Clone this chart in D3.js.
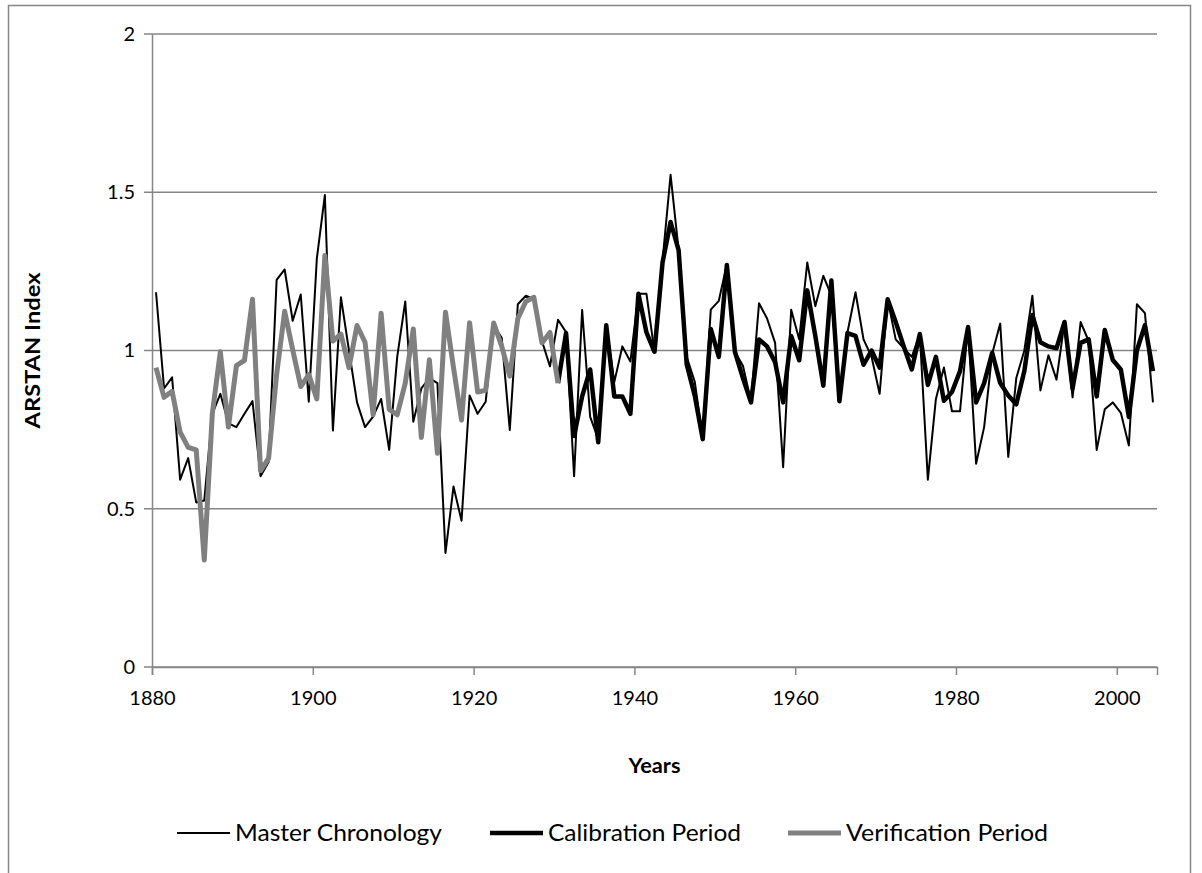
<!DOCTYPE html>
<html>
<head>
<meta charset="utf-8">
<script src="https://cdn.jsdelivr.net/npm/d3@7"></script>
<style>
  body { margin: 0; background: #fff; }
  text { font-family: Lato, "Open Sans", sans-serif; }
</style>
</head>
<body>
<div id="chart"></div>
<script>
// Data
const years = d3.range(1880, 2005);

const master = [
  1.184, 0.880, 0.915, 0.592, 0.660, 0.520, 0.526, 0.800, 0.863, 0.770,
  0.758, 0.800, 0.840, 0.603, 0.648, 1.223, 1.256, 1.094, 1.177, 0.838,
  1.290, 1.491, 0.747, 1.168, 1.000, 0.836, 0.758, 0.791, 0.847, 0.686,
  0.980, 1.155, 0.775, 0.880, 0.913, 0.897, 0.360, 0.570, 0.462, 0.858,
  0.800, 0.838, 1.079, 1.040, 0.749, 1.146, 1.173, 1.162, 1.030, 0.950,
  1.097, 1.058, 0.603, 1.128, 0.790, 0.720, 1.080, 0.900, 1.013, 0.965,
  1.179, 1.179, 0.996, 1.284, 1.555, 1.317, 0.980, 0.902, 0.725, 1.129,
  1.157, 1.273, 0.996, 0.952, 0.840, 1.149, 1.101, 1.024, 0.631, 1.129,
  1.035, 1.278, 1.140, 1.236, 1.173, 0.840, 1.057, 1.184, 1.035, 0.980,
  0.863, 1.162, 1.035, 1.007, 0.980, 1.052, 0.592, 0.847, 0.946, 0.808,
  0.808, 1.074, 0.642, 0.758, 0.990, 1.085, 0.664, 0.913, 1.000, 1.173,
  0.874, 0.985, 0.908, 1.090, 0.852, 1.090, 1.030, 0.686, 0.814, 0.836,
  0.803, 0.700, 1.146, 1.118, 0.836
];

// Verification period 1880-1930
const verificationYears = d3.range(1880, 1931);
const verification = [
  0.946, 0.852, 0.871, 0.742, 0.694, 0.686, 0.338, 0.800, 0.996, 0.758,
  0.952, 0.969, 1.162, 0.620, 0.659, 0.924, 1.124, 1.002, 0.886, 0.924,
  0.847, 1.300, 1.030, 1.052, 0.946, 1.079, 1.026, 0.797, 1.118, 0.814,
  0.797, 0.897, 1.068, 0.725, 0.971, 0.675, 1.121, 0.946, 0.780, 1.088,
  0.869, 0.874, 1.087, 1.013, 0.919, 1.101, 1.155, 1.168, 1.024, 1.057,
  0.897
];

// Calibration period 1930-2004
const calibrationYears = d3.range(1930, 2005);
const calibration = [
  0.897, 1.055, 0.730, 0.855, 0.940, 0.710, 1.080, 0.855, 0.855, 0.800,
  1.179, 1.057, 0.996, 1.278, 1.406, 1.317, 0.957, 0.858, 0.720, 1.068,
  0.980, 1.270, 0.996, 0.913, 0.836, 1.035, 1.013, 0.963, 0.836, 1.046,
  0.969, 1.190, 1.046, 0.889, 1.221, 0.840, 1.055, 1.046, 0.955, 1.000,
  0.946, 1.162, 1.090, 1.013, 0.940, 1.052, 0.891, 0.980, 0.841, 0.869,
  0.935, 1.074, 0.836, 0.897, 0.993, 0.897, 0.858, 0.830, 0.935, 1.112,
  1.026, 1.013, 1.007, 1.090, 0.880, 1.024, 1.035, 0.855, 1.065, 0.970,
  0.940, 0.790, 1.000, 1.080, 0.935
];

const yTicks = [0, 0.5, 1, 1.5, 2];
const xTicks = [1880, 1900, 1920, 1940, 1960, 1980, 2000];

const seriesNames = ["Master Chronology", "Calibration Period", "Verification Period"];

/************************************
 * Layout
 ************************************/
const w = 1202;
const h = 873;
const margin = { left: 152, right: 45, top: 34, bottom: 206 };
const gridColor = "#868686";

const svg = d3.select("#chart")
  .append("svg")
  .attr("width", w)
  .attr("height", h);

// outer chart border (cut off at the bottom)
svg.append("path")
  .attr("d", "M8.5," + h + "V5.5H1190.5V" + h)
  .attr("fill", "none")
  .attr("stroke", gridColor)
  .attr("stroke-width", 1.5);

/************************************
 * Scales
 ************************************/
const xBand = d3.scaleBand()
  .domain(years)
  .range([margin.left, w - margin.right]);

const xScale = d3.scaleLinear()
  .domain([1880, 2005])
  .range([margin.left, w - margin.right]);

const yScale = d3.scaleLinear()
  .domain([0, 2])
  .range([h - margin.bottom, margin.top]);

const xPos = y => xBand(y) + xBand.bandwidth() / 2;

/************************************
 * Grid and axes
 ************************************/
svg.append("g")
  .selectAll("line")
  .data(yTicks)
  .enter()
  .append("line")
  .attr("x1", margin.left - 8)
  .attr("x2", w - margin.right)
  .attr("y1", d => yScale(d))
  .attr("y2", d => yScale(d))
  .attr("stroke", gridColor)
  .attr("stroke-width", 1.5);

const yAxis = d3.axisLeft(yScale)
  .tickValues(yTicks)
  .tickFormat(d => d)
  .tickSize(0)
  .tickPadding(17);

svg.append("g")
  .attr("transform", "translate(" + margin.left + ",0)")
  .call(yAxis)
  .call(g => g.select(".domain").attr("stroke", gridColor).attr("stroke-width", 1.5))
  .selectAll("text")
  .attr("font-size", 20)
  .attr("font-family", "Lato, sans-serif")
  .attr("fill", "#000");

const xAxis = d3.axisBottom(xScale)
  .tickValues(xTicks)
  .tickFormat(d3.format(""))
  .tickSize(8)
  .tickPadding(16);

svg.append("g")
  .attr("transform", "translate(0," + yScale(0) + ")")
  .call(xAxis)
  .call(g => g.select(".domain").attr("stroke", gridColor).attr("stroke-width", 1.5))
  .call(g => g.selectAll(".tick line").attr("stroke", gridColor).attr("stroke-width", 1.5))
  .selectAll("text")
  .attr("font-size", 20)
  .attr("font-family", "Lato, sans-serif")
  .attr("fill", "#000");

// Axis titles
svg.append("text")
  .attr("transform", "translate(40," + (yScale(1)) + ") rotate(-90)")
  .attr("text-anchor", "middle")
  .attr("font-weight", "bold")
  .attr("font-size", 20)
  .attr("textLength", 156)
  .attr("lengthAdjust", "spacingAndGlyphs")
  .text("ARSTAN Index");

svg.append("text")
  .attr("x", (margin.left + w - margin.right) / 2)
  .attr("y", 773)
  .attr("text-anchor", "middle")
  .attr("font-weight", "bold")
  .attr("font-size", 20)
  .attr("textLength", 52)
  .attr("lengthAdjust", "spacingAndGlyphs")
  .text("Years");

/************************************
 * Lines
 ************************************/
const line = d3.line()
  .x(d => xPos(d[0]))
  .y(d => yScale(d[1]));

const styles = [
  { color: "#000", width: 2 },
  { color: "#000", width: 4.5 },
  { color: "#808080", width: 5 }
];

const seriesData = [
  d3.zip(years, master),
  d3.zip(calibrationYears, calibration),
  d3.zip(verificationYears, verification)
];

svg.append("g")
  .selectAll("path")
  .data(seriesData)
  .enter()
  .append("path")
  .attr("d", d => line(d))
  .attr("fill", "none")
  .attr("stroke", (d, i) => styles[i].color)
  .attr("stroke-width", (d, i) => styles[i].width)
  .attr("stroke-linejoin", "round");

/************************************
 * Legend
 ************************************/
const legendX = [177, 490, 788];
const legendTextW = [207, 193, 202];
const legendY = 833;

const legend = svg.append("g")
  .selectAll("g")
  .data(seriesNames)
  .enter()
  .append("g")
  .attr("transform", (d, i) => "translate(" + legendX[i] + "," + legendY + ")");

legend.append("line")
  .attr("x1", 0)
  .attr("x2", 53)
  .attr("stroke", (d, i) => styles[i].color)
  .attr("stroke-width", (d, i) => styles[i].width);

legend.append("text")
  .attr("x", 58)
  .attr("y", 8)
  .attr("font-size", 23)
  .attr("textLength", (d, i) => legendTextW[i])
  .attr("lengthAdjust", "spacingAndGlyphs")
  .text(d => d);
</script>
</body>
</html>
